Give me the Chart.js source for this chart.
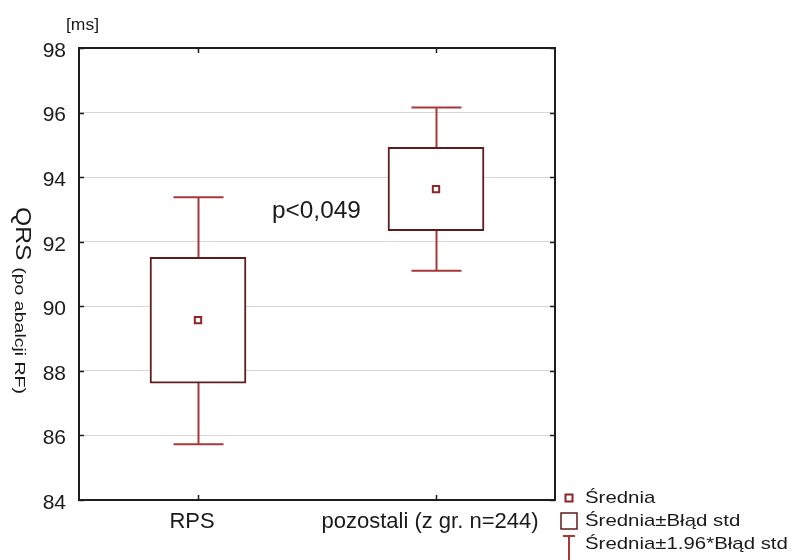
<!DOCTYPE html>
<html>
<head>
<meta charset="utf-8">
<script src="https://cdn.jsdelivr.net/npm/chart.js@4.4.0/dist/chart.umd.min.js"></script>
<style>
  html, body { margin: 0; padding: 0; background: #fff; }
</style>
</head>
<body>
<canvas id="canvasQRS" width="800" height="560"></canvas>
<script>
// QRS po ablacji RF: srednia, +-blad std, +-1.96*blad std
var groups = ['RPS', 'pozostali (z gr. n=244)'];
var srednia = [89.57, 93.63];
var bladLow = [87.62, 92.34];
var bladHigh = [91.52, 94.92];
var ciLow = [85.73, 91.10];
var ciHigh = [93.38, 96.16];
var yTicks = [84, 86, 88, 90, 92, 94, 96, 98];

var boxColor = '#5e1c1c';
var whiskerColor = '#a8383a';
var meanColor = '#8e2424';
var axisColor = '#1e1e1e';
var textColor = '#1a1a1a';
var FONT = 'Liberation Sans, Arial, sans-serif';

function stretchedText(ctx, str, x, y, size, sx, align){
    ctx.save();
    ctx.font = size + 'px ' + FONT;
    ctx.translate(x, y);
    ctx.scale(sx, 1);
    ctx.textAlign = align || 'left';
    ctx.fillText(str, 0, 0);
    ctx.restore();
}

// whiskers go under the boxes, frame and labels on top
var whiskerPlugin = {
    id: 'whiskers',
    beforeDatasetsDraw: function(chart){
        var ctx = chart.ctx;
        var x = chart.scales.x, y = chart.scales.y;
        ctx.save();
        ctx.strokeStyle = whiskerColor;
        ctx.lineWidth = 2;
        for (var i = 0; i < groups.length; i++) {
            var cx = Math.round(x.getPixelForValue(i)) + 0.5;
            var top = y.getPixelForValue(ciHigh[i]);
            var bot = y.getPixelForValue(ciLow[i]);
            ctx.beginPath();
            ctx.moveTo(cx, top); ctx.lineTo(cx, bot);
            ctx.moveTo(cx - 25, top); ctx.lineTo(cx + 25, top);
            ctx.moveTo(cx - 25, bot); ctx.lineTo(cx + 25, bot);
            ctx.stroke();
        }
        ctx.restore();
    }
};

var framePlugin = {
    id: 'frame',
    afterDraw: function(chart){
        var ctx = chart.ctx;
        var a = chart.chartArea;
        var x = chart.scales.x, y = chart.scales.y;
        ctx.save();
        ctx.strokeStyle = axisColor;
        ctx.lineWidth = 2;
        ctx.strokeRect(a.left, a.top, a.right - a.left, a.bottom - a.top);
        // short inward tick marks
        ctx.lineWidth = 1.5;
        ctx.beginPath();
        yTicks.forEach(function(v){
            var py = Math.round(y.getPixelForValue(v)) + 0.5;
            ctx.moveTo(a.left, py); ctx.lineTo(a.left + 5, py);
            ctx.moveTo(a.right, py); ctx.lineTo(a.right - 5, py);
        });
        for (var i = 0; i < groups.length; i++) {
            var px = Math.round(x.getPixelForValue(i)) + 0.5;
            ctx.moveTo(px, a.bottom); ctx.lineTo(px, a.bottom - 5);
            ctx.moveTo(px, a.top); ctx.lineTo(px, a.top + 5);
        }
        ctx.stroke();

        ctx.fillStyle = textColor;
        ctx.textBaseline = 'alphabetic';
        stretchedText(ctx, '[ms]', 66, 30, 17, 1.03, 'left');
        stretchedText(ctx, 'p<0,049', 272, 218, 23, 1.06, 'left');

        // rotated axis title
        ctx.save();
        ctx.translate(11, 207);
        ctx.rotate(Math.PI / 2);
        ctx.scale(1.12, 1);
        ctx.textBaseline = 'bottom';
        ctx.font = '22px ' + FONT;
        ctx.fillText('QRS', 0, 0);
        var w = ctx.measureText('QRS ').width;
        ctx.restore();
        ctx.save();
        ctx.translate(11, 207 + w * 1.12);
        ctx.rotate(Math.PI / 2);
        ctx.scale(1.3, 1);
        ctx.textBaseline = 'bottom';
        ctx.font = '15px ' + FONT;
        ctx.fillText('(po abalcji RF)', 0, -1);
        ctx.restore();

        // legend
        var lx = 569, ly = [498, 521, 544];
        ctx.strokeStyle = meanColor;
        ctx.lineWidth = 2;
        ctx.strokeRect(lx - 3.5, ly[0] - 3.5, 7, 7);
        ctx.strokeStyle = boxColor;
        ctx.lineWidth = 1.5;
        ctx.strokeRect(lx - 8, ly[1] - 8, 16, 16);
        ctx.strokeStyle = whiskerColor;
        ctx.lineWidth = 2;
        ctx.beginPath();
        ctx.moveTo(lx - 6, ly[2] - 8); ctx.lineTo(lx + 6, ly[2] - 8);
        ctx.moveTo(lx, ly[2] - 8); ctx.lineTo(lx, ly[2] + 16);
        ctx.stroke();
        ctx.fillStyle = textColor;
        ctx.textBaseline = 'middle';
        stretchedText(ctx, 'Średnia', 585, ly[0], 17, 1.2, 'left');
        stretchedText(ctx, 'Średnia±Błąd std', 585, ly[1], 17, 1.2, 'left');
        stretchedText(ctx, 'Średnia±1.96*Błąd std', 585, ly[2], 17, 1.2, 'left');
        ctx.restore();
    }
};

var ctx = document.getElementById('canvasQRS').getContext('2d');
var chart = new Chart(ctx, {
    data: {
        labels: groups,
        datasets: [
            {
                type: 'line',
                label: 'Średnia',
                data: srednia,
                showLine: false,
                pointStyle: 'rect',
                pointRadius: 4.5,
                pointBorderWidth: 2,
                borderColor: meanColor,
                backgroundColor: '#fff',
                order: 0
            },
            {
                type: 'bar',
                label: 'Średnia±Błąd std',
                data: groups.map(function(g, i){ return [bladLow[i], bladHigh[i]]; }),
                backgroundColor: '#fff',
                borderColor: boxColor,
                borderWidth: 2,
                borderSkipped: false,
                barThickness: 96,
                order: 1
            }
        ]
    },
    options: {
        responsive: false,
        animation: false,
        layout: { padding: { left: 39, top: 48, right: 245, bottom: 0 } },
        plugins: {
            legend: { display: false },
            tooltip: { enabled: false }
        },
        scales: {
            x: {
                type: 'category',
                offset: true,
                afterFit: function(s){ s.height = 60; },
                grid: { display: false, drawTicks: false },
                border: { display: false },
                ticks: { color: textColor, font: { family: FONT, size: 22 }, padding: 9, labelOffset: -6 }
            },
            y: {
                min: 84,
                max: 98,
                afterFit: function(s){ s.width = 40; },
                afterBuildTicks: function(s){ s.ticks = yTicks.map(function(v){ return { value: v }; }); },
                grid: { color: '#d6d6d6', lineWidth: 1, drawTicks: false },
                border: { display: false },
                ticks: { color: textColor, font: { family: FONT, size: 21 }, padding: 13, labelOffset: 3 }
            }
        }
    },
    plugins: [whiskerPlugin, framePlugin]
});
</script>
</body>
</html>
